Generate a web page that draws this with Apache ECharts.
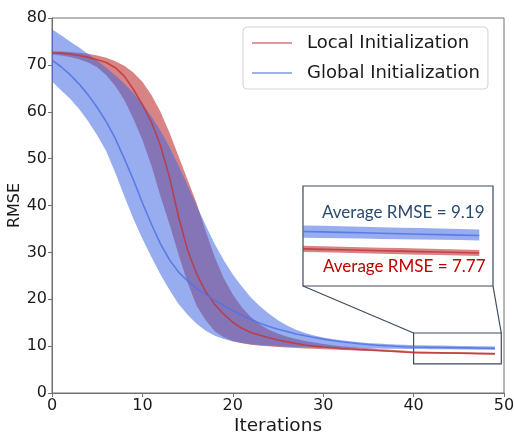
<!DOCTYPE html>
<html><head><meta charset="utf-8">
<script src="https://cdn.jsdelivr.net/npm/echarts@6/dist/echarts.min.js"></script>
<style>html,body{margin:0;padding:0;background:#fff}#c{width:514px;height:434px}</style>
</head><body><div id="c"></div>
<script>
const iterations = [0,1,2,3,4,5,6,7,8,9,10,11,12,13,14,15,16,17,18,19,20,21,22,23,24,25,26,27,28,29,30,31,32,33,34,35,36,37,38,39,40,41,42,43,44,45,46,47,48,49];
const localMean = [72.6,72.5,72.3,72.0,71.6,71.1,70.5,69.4,67.6,64.8, 61.5,57.8,52.8,46.0,37.6,30.5,25.4,21.6,18.9,16.8, 15.1,13.8,12.9,12.3,11.8,11.3,10.9,10.55,10.25,10.0, 9.8,9.65,9.5,9.38,9.27,9.17,9.06,8.96,8.86,8.75, 8.65,8.62,8.59,8.56,8.53,8.5,8.47,8.44,8.41,8.38];
const localUpper = [72.9,72.85,72.75,72.6,72.35,72.0,71.5,70.8,69.8,68.4, 66.4,63.6,60.0,55.5,50.5,45.5,40.5,34.5,29.0,24.5, 21.0,18.3,16.2,14.6,13.5,12.7,12.0,11.5,11.1,10.75, 10.45,10.2,10.0,9.82,9.67,9.53,9.4,9.28,9.17,9.06, 8.85,8.82,8.79,8.76,8.73,8.7,8.67,8.64,8.61,8.58];
const localLower = [72.2,72.0,71.7,71.2,70.5,69.5,67.8,65.5,62.5,58.5, 54.0,48.5,42.0,36.0,29.5,23.5,18.6,15.5,13.2,11.9, 11.1,10.6,10.3,10.1,9.95,9.8,9.7,9.6,9.5,9.42, 9.35,9.27,9.19,9.11,9.04,8.97,8.9,8.8,8.7,8.6, 8.45,8.42,8.39,8.36,8.33,8.3,8.27,8.24,8.21,8.18];
const globalMean = [71.0,69.6,67.9,65.9,63.6,60.9,57.9,54.3,50.0,45.5, 40.6,36.0,31.8,28.4,25.8,23.9,22.3,21.0,19.8,18.7, 17.6,16.6,15.7,14.9,14.2,13.6,13.1,12.6,12.2,11.85, 11.5,11.2,10.95,10.72,10.52,10.35,10.2,10.07,9.96,9.87, 9.8,9.77,9.74,9.71,9.68,9.65,9.62,9.59,9.56,9.53];
const globalUpper = [77.6,76.3,75.0,73.7,72.3,70.9,69.4,67.8,66.0,64.0, 61.7,59.0,56.0,52.5,48.5,44.3,40.0,35.8,31.8,28.3, 25.3,22.7,20.4,18.5,16.9,15.5,14.4,13.5,12.8,12.25, 11.85,11.5,11.25,11.02,10.84,10.69,10.56,10.45,10.35,10.27, 10.2,10.17,10.14,10.11,10.08,10.05,10.02,9.99,9.96,9.93];
const globalLower = [66.5,64.6,62.8,60.6,58.0,55.0,51.6,47.0,42.0,37.2, 32.9,29.0,25.3,22.0,19.0,16.7,14.8,13.3,12.2,11.5, 11.0,10.65,10.4,10.22,10.08,9.97,9.88,9.81,9.75,9.7, 9.66,9.62,9.59,9.56,9.53,9.5,9.47,9.45,9.43,9.41, 9.39,9.37,9.35,9.33,9.31,9.29,9.27,9.25,9.23,9.21];
const xTicks = [0,10,20,30,40,50];
const yTicks = [0,10,20,30,40,50,60,70,80];
const zoomX = [40, 49.7];
const zoomY = [6.2, 12.8];
const seriesNames = ['Local Initialization','Global Initialization'];
const insetLabels = ['Average RMSE = 7.77','Average RMSE = 9.19'];

const C = {
  redBand:'rgba(190,50,50,0.6)', blueBand:'rgba(65,105,225,0.55)',
  redLine:'rgba(190,55,60,0.85)', blueLine:'rgba(80,115,230,0.85)',
  redLegend:'#dc9a9a', blueLegend:'#9cb1ee', frame:'#3d4b5c', axis:'#707070'
};
const startIdx = [0, iterations.indexOf(zoomX[0])];

function bandSeries(g, lower, upper, color){
  const s = startIdx[g];
  const xs = iterations.slice(s), lo = lower.slice(s), up = upper.slice(s);
  return {type:'custom', xAxisIndex:g, yAxisIndex:g, silent:true, data:[[xs[0], lo[0]]],
    renderItem:function(params, api){
      const top = xs.map((x,i)=>api.coord([x, up[i]]));
      const bot = xs.map((x,i)=>api.coord([x, lo[i]])).reverse();
      return {type:'polygon', shape:{points:top.concat(bot)}, style:{fill:color}};
    }};
}
function lineSeries(g, name, arr, color, extra){
  const s = startIdx[g];
  return Object.assign({type:'line', name:name, xAxisIndex:g, yAxisIndex:g,
    data:iterations.slice(s).map((x,i)=>[x, arr[s+i]]),
    showSymbol:false, lineStyle:{color:color, width:1.6}, itemStyle:{color:color}, silent:true}, extra||{});
}

const series = [];
[0,1].forEach(g=>{
  series.push(bandSeries(g, localLower, localUpper, C.redBand));
  series.push(bandSeries(g, globalLower, globalUpper, C.blueBand));
  series.push(lineSeries(g, g===0?seriesNames[0]:'li', localMean, C.redLine));
  series.push(lineSeries(g, g===0?seriesNames[1]:'gi', globalMean, C.blueLine, g===0?{
    markArea:{silent:true, itemStyle:{color:'rgba(0,0,0,0)', borderColor:C.frame, borderWidth:1.2},
      data:[[{coord:[zoomX[0], zoomY[1]]},{coord:[zoomX[1], zoomY[0]]}]]}
  }:{}));
});

const axisFont = {fontFamily:'DejaVu Sans', color:'#1a1a1a'};
const option = {
  animation:false,
  grid:[
    {left:52, top:18, width:452, height:375, show:true, borderColor:C.axis, borderWidth:1, outerBoundsMode:'none', containLabel:false},
    {left:303, top:186, width:190, height:100, show:true, borderColor:C.frame, borderWidth:1.2, backgroundColor:'#fff', outerBoundsMode:'none', containLabel:false}
  ],
  xAxis:[
    {type:'value', gridIndex:0, min:xTicks[0], max:xTicks[xTicks.length-1], interval:10,
     axisLine:{show:true, lineStyle:{color:C.axis}}, axisTick:{show:true, length:4, lineStyle:{color:C.axis}},
     splitLine:{show:false}, axisLabel:Object.assign({fontSize:16, margin:5}, axisFont),
     name:'Iterations', nameLocation:'middle', nameGap:24, nameMoveOverlap:false, nameTextStyle:Object.assign({fontSize:18.5}, axisFont)},
    {type:'value', gridIndex:1, min:zoomX[0], max:zoomX[1], show:false}
  ],
  yAxis:[
    {type:'value', gridIndex:0, min:yTicks[0], max:yTicks[yTicks.length-1], interval:10,
     axisLine:{show:true, lineStyle:{color:C.axis}}, axisTick:{show:true, length:4, lineStyle:{color:C.axis}},
     splitLine:{show:false}, axisLabel:Object.assign({fontSize:16, margin:5}, axisFont),
     name:'RMSE', nameLocation:'middle', nameGap:29, nameMoveOverlap:false, nameTextStyle:Object.assign({fontSize:16}, axisFont)},
    {type:'value', gridIndex:1, min:zoomY[0], max:zoomY[1], show:false}
  ],
  legend:{orient:'vertical', left:243, top:27, padding:[5,8,5,9], itemGap:8, itemWidth:40, itemHeight:2, icon:'rect',
    backgroundColor:'#fff', borderColor:'#d4d4d4', borderWidth:1, borderRadius:4,
    textStyle:{fontSize:18, fontFamily:'DejaVu Sans', color:'#1a1a1a', padding:[0,0,0,10], lineHeight:22},
    data:[{name:seriesNames[0], itemStyle:{color:C.redLegend}},{name:seriesNames[1], itemStyle:{color:C.blueLegend}}]},
  series:series
};
const chart = echarts.init(document.getElementById('c'), null, {renderer:'canvas'});
chart.setOption(option);

const a = chart.convertToPixel({gridIndex:1}, [zoomX[0], zoomY[0]]);
const b = chart.convertToPixel({gridIndex:1}, [zoomX[1], zoomY[0]]);
const c = chart.convertToPixel({gridIndex:0}, [zoomX[0], zoomY[1]]);
const d = chart.convertToPixel({gridIndex:0}, [zoomX[1], zoomY[1]]);
const tl = chart.convertToPixel({gridIndex:1}, [zoomX[0], zoomY[1]]);
chart.setOption({graphic:[
  {type:'line', shape:{x1:a[0], y1:a[1], x2:c[0], y2:c[1]}, style:{stroke:C.frame, lineWidth:1.2}, z:50},
  {type:'line', shape:{x1:b[0], y1:b[1], x2:d[0], y2:d[1]}, style:{stroke:C.frame, lineWidth:1.2}, z:50},
  {type:'text', x:tl[0]+19, y:tl[1]+27, z:50, style:{text:insetLabels[1], fill:'#2b4a72', font:'17px Lato', verticalAlign:'middle'}},
  {type:'text', x:tl[0]+20, y:tl[1]+81, z:50, style:{text:insetLabels[0], fill:'#c00000', font:'17px Lato', verticalAlign:'middle'}}
]});
</script></body></html>
